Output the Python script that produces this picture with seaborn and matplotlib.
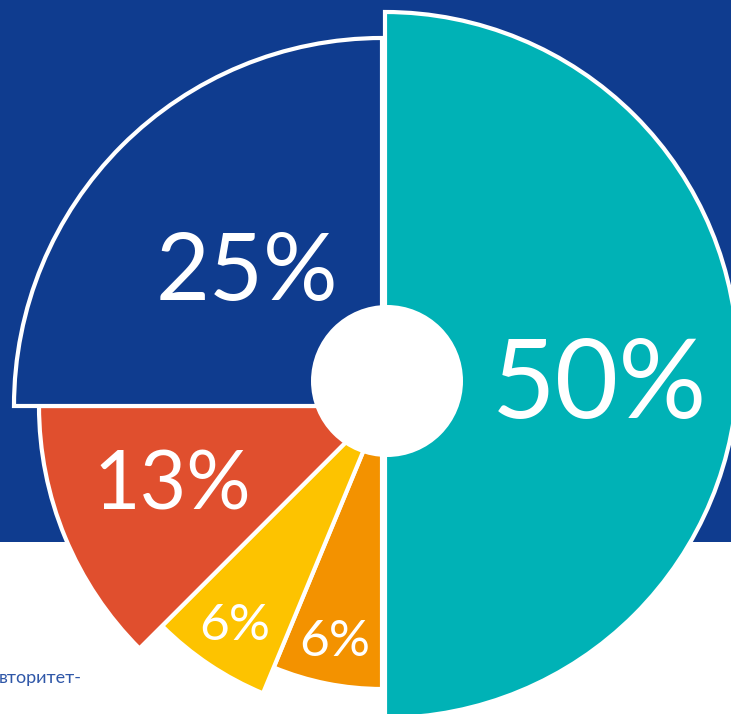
import numpy as np
import seaborn as sns
import matplotlib.pyplot as plt
from matplotlib.patches import Circle

# clockwise from 12 o'clock
labels = ['50%', '6%', '6%', '13%', '25%']
shares = [50, 6.25, 6.25, 12.5, 25]
radii = [353, 283, 311, 343, 368]   # outer radius of each slice, px
colors = ['#00b2b6', '#f39200', '#fdc300', '#e04f2e', '#0f3c8f']

bg_blue = '#0f3c8f'
footer = 'вторитет-'

sns.set_theme(style='white')
plt.rcParams['font.family'] = ['Lato', 'DejaVu Sans']

W, H = 731, 714
fig = plt.figure(figsize=(W / 100, H / 100), dpi=100)

# background band
bg = fig.add_axes([0, 0, 1, 1])
bg.set_xlim(0, W)
bg.set_ylim(H, 0)
bg.axhspan(0, 542, color=bg_blue, lw=0)
bg.set_axis_off()

widths = np.array(shares) / 100 * 2 * np.pi
starts = np.concatenate([[0], np.cumsum(widths)[:-1]])


def polar_at(cx, cy, R=400):
    a = fig.add_axes([(cx - R) / W, (H - cy - R) / H, 2 * R / W, 2 * R / H],
                     projection='polar')
    a.set_theta_zero_location('N')
    a.set_theta_direction(-1)
    a.set_ylim(0, R)
    a.patch.set_alpha(0)
    a.set_axis_off()
    return a


# small slices share one centre, the big teal half sits a bit higher
ax = polar_at(382, 406)
ax.bar(starts[1:], radii[1:], width=widths[1:], align='edge', color=colors[1:],
       edgecolor='white', linewidth=3)
ax2 = polar_at(385, 365)
ax2.bar(starts[:1], radii[:1], width=widths[:1], align='edge', color=colors[:1],
        edgecolor='white', linewidth=3)

# overlay: hole, labels, footer
top = fig.add_axes([0, 0, 1, 1])
top.set_xlim(0, W)
top.set_ylim(H, 0)
top.set_axis_off()
top.patch.set_alpha(0)
top.add_patch(Circle((387, 381), 76, color='white', lw=0))

label_pos = [(600, 418), (335, 656), (235, 640), (172, 510), (247, 300)]
label_size = [79, 37, 37, 58, 67]
for lab, (x, y), s in zip(labels, label_pos, label_size):
    top.text(x, y, lab, color='white', fontsize=s, ha='center', va='baseline')

top.text(-1, 678, footer, color='#2f57a8', fontsize=13, ha='left', va='center')

fig.savefig('out.png', dpi=100)
